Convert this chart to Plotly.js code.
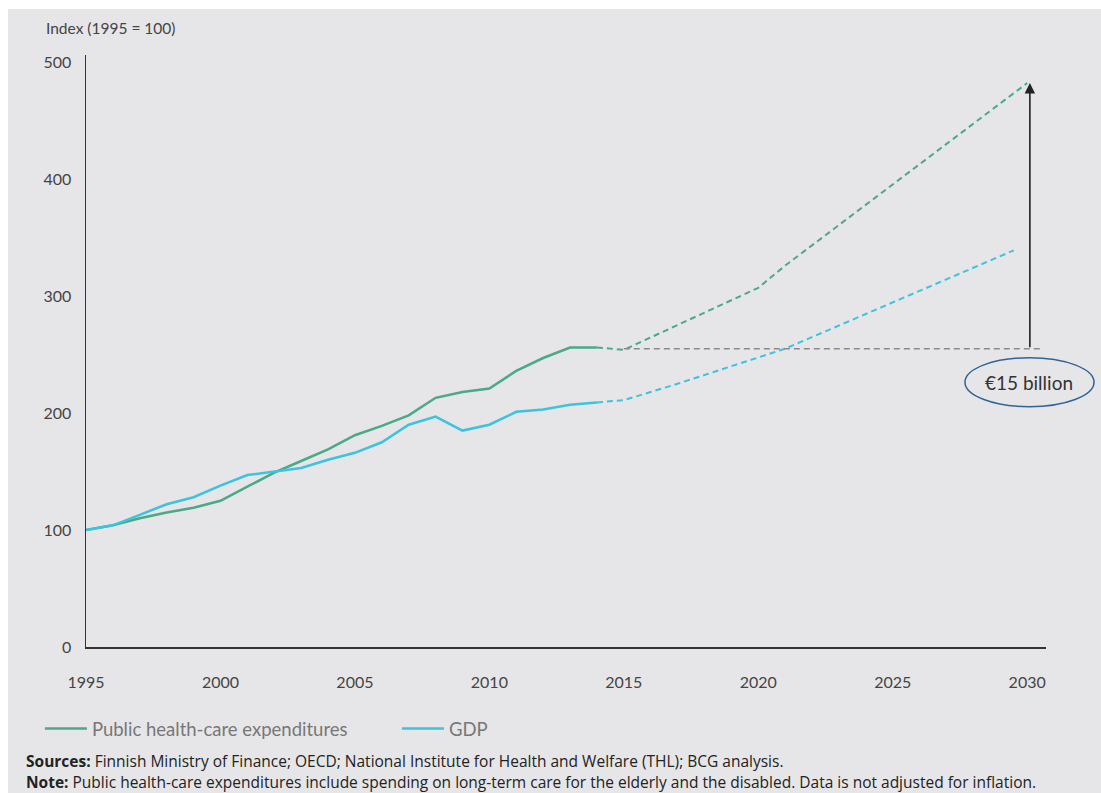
<!DOCTYPE html>
<html>
<head>
<meta charset="utf-8">
<script src="https://cdn.plot.ly/plotly-3.0.1.min.js"></script>
<style>
  html, body { margin: 0; padding: 0; background: #ffffff; }
  #chart { position: absolute; left: 8px; top: 9px; width: 1093px; height: 784px; }
</style>
</head>
<body>
<div id="chart"></div>
<script>
// ---- data ----
const yearsActual = [1995,1996,1997,1998,1999,2000,2001,2002,2003,2004,2005,2006,2007,2008,2009,2010,2011,2012,2013,2014];
const healthActual = [100,104,110,115,119,125,137,149,159,169,181,189,198,213,218,221,236,247,256,256];
const gdpActual    = [100,104,113,122,128,138,147,150,153,160,166,175,190,197,185,190,201,203,207,209];

const yearsHealthProj = [2014,2015,2020,2021,2030];
const healthProj      = [256,254,307,326,482];
const yearsGdpProj    = [2014,2015,2017,2019,2020,2021,2029.5];
const gdpProj         = [209,211,225,240,247,255,339];

const gapLevel = 255;          // level of the horizontal reference line
const gapStartYear = 2015;
const gapTopValue = 482;
const gapLabel = '€15 billion';

const seriesNames = ['Public health-care expenditures', 'GDP'];
const xTicks = [1995,2000,2005,2010,2015,2020,2025,2030];
const yTicks = [0,100,200,300,400,500];
const yTitle = 'Index (1995 = 100)';
const sourcesText = '<b>Sources:</b> Finnish Ministry of Finance; OECD; National Institute for Health and Welfare (THL); BCG analysis.';
const noteText = '<b>Note:</b> Public health-care expenditures include spending on long-term care for the elderly and the disabled. Data is not adjusted for inflation.';

// ---- styling ----
const GREEN = '#4aaa86';
const BLUE = '#3cc3df';
const FONT = 'Lato, "Open Sans", sans-serif';
const FOOT = '"Open Sans", Lato, sans-serif';

const traces = [
  {x: yearsActual, y: healthActual, type: 'scatter', mode: 'lines', name: seriesNames[0],
   line: {color: GREEN, width: 2.5}},
  {x: yearsActual, y: gdpActual, type: 'scatter', mode: 'lines', name: seriesNames[1],
   line: {color: BLUE, width: 2.5}},
  {x: yearsHealthProj, y: healthProj, type: 'scatter', mode: 'lines', showlegend: false,
   line: {color: GREEN, width: 2, dash: '6px,4px'}},
  {x: yearsGdpProj, y: gdpProj, type: 'scatter', mode: 'lines', showlegend: false,
   line: {color: BLUE, width: 2, dash: '6px,4px'}}
];

const layout = {
  width: 1093, height: 784,
  paper_bgcolor: '#e6e6e8',
  plot_bgcolor: '#e6e6e8',
  margin: {l: 78, r: 55, t: 46, b: 146},
  font: {family: FONT, color: '#444444', size: 16},
  showlegend: true,
  legend: {
    orientation: 'h', x: -0.048, y: -0.1385, xanchor: 'left', yanchor: 'middle',
    font: {family: FONT, size: 18.5, color: '#777777'},
    itemwidth: 42,
    entrywidth: 300, entrywidthmode: 'pixels', bgcolor: 'rgba(0,0,0,0)'
  },
  xaxis: {
    range: [1995, 2030.7], tickvals: xTicks, ticktext: xTicks.map(String),
    showgrid: false, zeroline: false, showline: true, linecolor: '#333333', linewidth: 1.5,
    ticks: '', ticklabelstandoff: 20, tickfont: {family: FONT, size: 16, color: '#444444'},
    fixedrange: true
  },
  yaxis: {
    range: [0, 506], tickvals: yTicks, ticktext: yTicks.map(String),
    showgrid: false, zeroline: false, showline: true, linecolor: '#333333', linewidth: 1.5,
    ticks: '', ticklabelstandoff: 10, tickfont: {family: FONT, size: 16, color: '#444444'},
    fixedrange: true
  },
  shapes: [
    {type: 'line', xref: 'x', yref: 'y', x0: gapStartYear, x1: 2030.6, y0: gapLevel, y1: gapLevel,
     line: {color: '#8a8a8a', width: 1.5, dash: '6px,4px'}},
    {type: 'circle', xref: 'paper', yref: 'paper', x0: 0.9156, x1: 1.05, y0: 0.406, y1: 0.4887,
     line: {color: '#2f6499', width: 1.5}, fillcolor: 'rgba(0,0,0,0)'}
  ],
  annotations: [
    {x: 2030.1, y: gapTopValue, ax: 2030.1, ay: gapLevel, xref: 'x', yref: 'y', axref: 'x', ayref: 'y',
     showarrow: true, arrowhead: 2, arrowsize: 1.3, arrowwidth: 1.6, arrowcolor: '#222222', text: ''},
    {x: 0.982, y: 0.4476, xref: 'paper', yref: 'paper', text: gapLabel, showarrow: false,
     xanchor: 'center', yanchor: 'middle', font: {family: FONT, size: 19, color: '#333333'}},
    {x: -0.0437, y: 1.0456, xref: 'paper', yref: 'paper', text: yTitle, showarrow: false,
     xanchor: 'left', yanchor: 'middle', font: {family: FONT, size: 15.5, color: '#444444'}},
    {x: -0.0635, y: -0.1926, xref: 'paper', yref: 'paper', text: sourcesText, showarrow: false,
     xanchor: 'left', yanchor: 'middle', align: 'left', borderpad: 0, font: {family: FOOT, size: 15.5, color: '#222222'}},
    {x: -0.0635, y: -0.2280, xref: 'paper', yref: 'paper', text: noteText, showarrow: false,
     xanchor: 'left', yanchor: 'middle', align: 'left', borderpad: 0, font: {family: FOOT, size: 15.5, color: '#222222'}}
  ]
};

Plotly.newPlot('chart', traces, layout, {displayModeBar: false, staticPlot: true});
</script>
</body>
</html>
